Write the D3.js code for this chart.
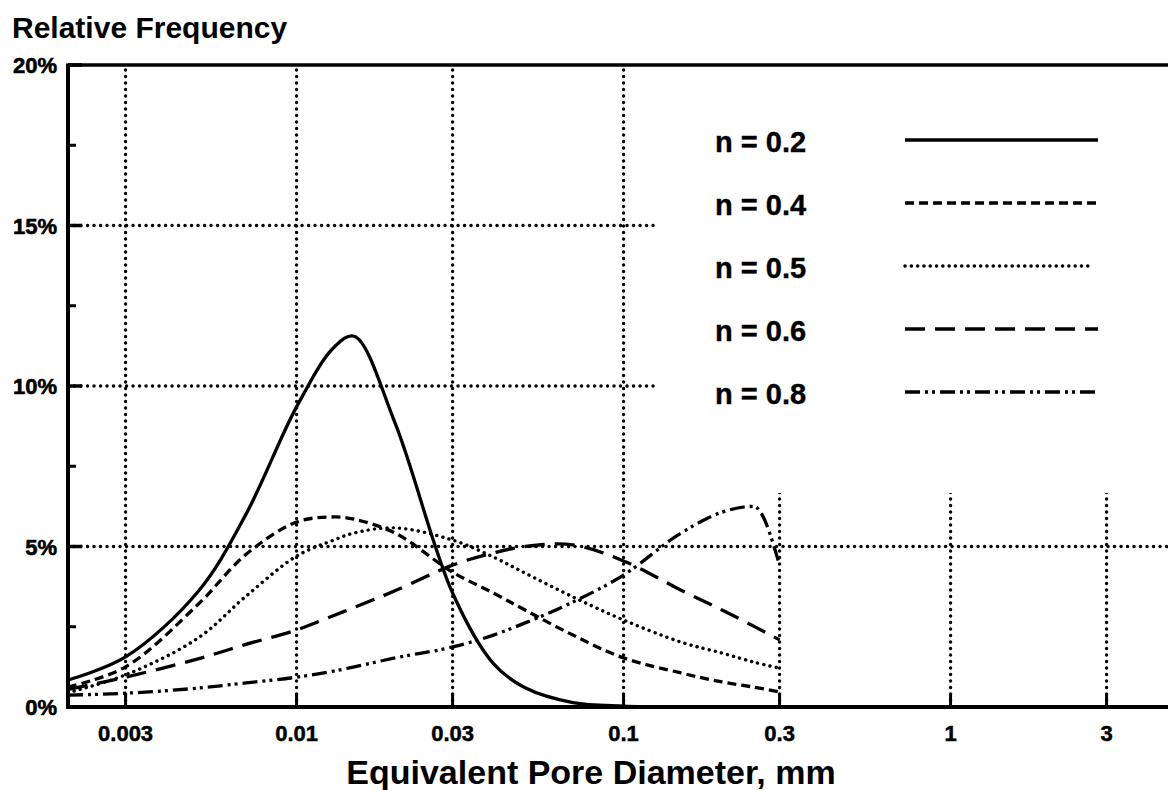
<!DOCTYPE html>
<html>
<head>
<meta charset="utf-8">
<script src="https://d3js.org/d3.v7.min.js"></script>
<style>
  html, body { margin: 0; padding: 0; background: #fff; }
  svg { display: block; }
  text { font-family: "Liberation Sans", Arial, Helvetica, sans-serif; font-weight: bold; fill: #000; }
</style>
</head>
<body>
<div id="grafico"></div>
<script>
// Datos (frecuencia relativa en %)
var diameters = [0.002, 0.003, 0.005, 0.007, 0.01, 0.013, 0.015, 0.02, 0.03, 0.04, 0.05, 0.07, 0.1, 0.15, 0.2, 0.25, 0.3];
var freqN02 = [0.84, 1.56, 3.6, 6.0, 9.35, 11.2, 11.55, 8.85, 3.55, 1.35, 0.6, 0.14, 0.03, 0, 0, 0, 0];
var freqN04 = [0.62, 1.25, 3.2, 4.75, 5.76, 5.92, 5.85, 5.42, 4.2, 3.55, 3.02, 2.24, 1.53, 1.06, 0.78, 0.62, 0.47];
var freqN05 = [0.45, 1.0, 2.15, 3.45, 4.7, 5.2, 5.42, 5.58, 5.2, 4.67, 4.17, 3.43, 2.71, 2.02, 1.68, 1.4, 1.21];
var freqN06 = [0.55, 0.93, 1.5, 1.95, 2.4, 2.85, 3.1, 3.62, 4.42, 4.8, 5.0, 5.05, 4.55, 3.64, 3.02, 2.52, 2.09];
var freqN08 = [0.37, 0.43, 0.59, 0.75, 0.93, 1.12, 1.25, 1.53, 1.87, 2.24, 2.62, 3.27, 4.11, 5.42, 6.07, 6.25, 4.42];

var seriesLabels = ["n = 0.2", "n = 0.4", "n = 0.5", "n = 0.6", "n = 0.8"];
var seriesValues = [freqN02, freqN04, freqN05, freqN06, freqN08];

var xTickValues = [0.003, 0.01, 0.03, 0.1, 0.3, 1, 3];
var xTickLabels = ["0.003", "0.01", "0.03", "0.1", "0.3", "1", "3"];
var yTickValues = [0, 5, 10, 15, 20];
var yTickLabels = ["0%", "5%", "10%", "15%", "20%"];
var yMinorTicks = [2.5, 7.5, 12.5, 17.5];

// Estilos de linea por serie
var dashes = [null, "9,5", "0.1,6.2", "20,10", "15,5,3,4,3,5"];
var caps = ["butt", "butt", "round", "butt", "butt"];
var curves = [d3.curveCatmullRom.alpha(0.5), d3.curveCatmullRom.alpha(0.5), d3.curveCatmullRom.alpha(0.5),
              d3.curveCatmullRom.alpha(0.5), d3.curveMonotoneX];

var width = 1168;
var height = 790;
var plotLeft = 68, plotTop = 65, plotBottom = 707;
var decade = 327;

var svg = d3.select("#grafico")
  .append("svg")
  .attr("width", width)
  .attr("height", height);

var x = d3.scaleLog()
  .domain([0.002, 5])
  .range([plotLeft, plotLeft + decade * Math.log10(5 / 0.002)]);

var y = d3.scaleLinear()
  .domain([0, 20])
  .range([plotBottom, plotTop]);

// Rejilla punteada
var grid = svg.append("g")
  .attr("stroke", "#000")
  .attr("stroke-width", 3.4)
  .attr("stroke-linecap", "round")
  .attr("stroke-dasharray", "0.1,6.4");

grid.selectAll(".vgrid")
  .data(xTickValues)
  .enter()
  .append("line")
  .attr("x1", function(d) { return x(d); })
  .attr("x2", function(d) { return x(d); })
  .attr("y1", plotBottom)
  .attr("y2", plotTop);

grid.selectAll(".hgrid")
  .data([5, 10, 15])
  .enter()
  .append("line")
  .attr("x1", plotLeft)
  .attr("x2", width)
  .attr("y1", function(d) { return y(d); })
  .attr("y2", function(d) { return y(d); });

// Fondo blanco de la leyenda (tapa la rejilla)
svg.append("rect")
  .attr("x", 655)
  .attr("y", plotTop + 2)
  .attr("width", width - 655)
  .attr("height", 426)
  .attr("fill", "#fff");

// Ejes
svg.append("line")
  .attr("x1", plotLeft).attr("x2", width)
  .attr("y1", plotTop).attr("y2", plotTop)
  .attr("stroke", "#000").attr("stroke-width", 3.5);

svg.append("line")
  .attr("x1", plotLeft).attr("x2", width)
  .attr("y1", plotBottom).attr("y2", plotBottom)
  .attr("stroke", "#000").attr("stroke-width", 4);

svg.append("line")
  .attr("x1", plotLeft).attr("x2", plotLeft)
  .attr("y1", plotTop - 1.5).attr("y2", plotBottom + 2)
  .attr("stroke", "#000").attr("stroke-width", 4);

// Marcas del eje x
svg.selectAll(".xtick")
  .data(xTickValues)
  .enter()
  .append("line")
  .attr("x1", function(d) { return x(d); })
  .attr("x2", function(d) { return x(d); })
  .attr("y1", plotBottom)
  .attr("y2", plotBottom - 14)
  .attr("stroke", "#000")
  .attr("stroke-width", 3);

svg.selectAll(".xlabel")
  .data(xTickValues)
  .enter()
  .append("text")
  .attr("x", function(d) { return x(d); })
  .attr("y", 741)
  .attr("text-anchor", "middle")
  .attr("font-size", 22)
  .attr("stroke", "#000")
  .attr("stroke-width", 0.5)
  .text(function(d, i) { return xTickLabels[i]; });

// Marcas del eje y
svg.selectAll(".ytick")
  .data(yTickValues)
  .enter()
  .append("line")
  .attr("x1", plotLeft)
  .attr("x2", plotLeft + 14)
  .attr("y1", function(d) { return y(d); })
  .attr("y2", function(d) { return y(d); })
  .attr("stroke", "#000")
  .attr("stroke-width", 3.5);

svg.selectAll(".yminor")
  .data(yMinorTicks)
  .enter()
  .append("line")
  .attr("x1", plotLeft)
  .attr("x2", plotLeft + 8)
  .attr("y1", function(d) { return y(d); })
  .attr("y2", function(d) { return y(d); })
  .attr("stroke", "#000")
  .attr("stroke-width", 3);

svg.selectAll(".ylabel")
  .data(yTickValues)
  .enter()
  .append("text")
  .attr("x", 57)
  .attr("y", function(d) { return y(d) + 8; })
  .attr("text-anchor", "end")
  .attr("font-size", 22)
  .attr("stroke", "#000")
  .attr("stroke-width", 0.6)
  .text(function(d, i) { return yTickLabels[i]; });

// Curvas
seriesValues.forEach(function(vals, i) {
  var pts = diameters.map(function(d, j) { return [d, vals[j]]; });
  var line = d3.line()
    .x(function(d) { return x(d[0]); })
    .y(function(d) { return y(d[1]); })
    .curve(curves[i]);
  svg.append("path")
    .attr("d", line(pts))
    .attr("fill", "none")
    .attr("stroke", "#000")
    .attr("stroke-width", i == 2 ? 3.4 : 3.3)
    .attr("stroke-linecap", caps[i])
    .attr("stroke-dasharray", dashes[i]);
});

// Leyenda
var legend = svg.selectAll(".legend")
  .data(seriesLabels)
  .enter()
  .append("g")
  .attr("transform", function(d, i) { return "translate(0," + (152 + i * 63) + ")"; });

legend.append("text")
  .attr("x", 715)
  .attr("y", 0)
  .attr("font-size", 29)
  .attr("stroke", "#000")
  .attr("stroke-width", 0.4)
  .text(function(d) { return d; });

legend.append("line")
  .attr("x1", 905)
  .attr("x2", function(d, i) { return i == 2 ? 1092 : 1098; })
  .attr("y1", -12)
  .attr("y2", -12)
  .attr("stroke", "#000")
  .attr("stroke-width", 3.5)
  .attr("stroke-linecap", function(d, i) { return caps[i]; })
  .attr("stroke-dasharray", function(d, i) { return dashes[i]; });

// Titulos
svg.append("text")
  .attr("x", 12)
  .attr("y", 38)
  .attr("font-size", 30)
  .text("Relative Frequency");

svg.append("text")
  .attr("x", 591)
  .attr("y", 784)
  .attr("text-anchor", "middle")
  .attr("font-size", 34)
  .text("Equivalent Pore Diameter, mm");
</script>
</body>
</html>
